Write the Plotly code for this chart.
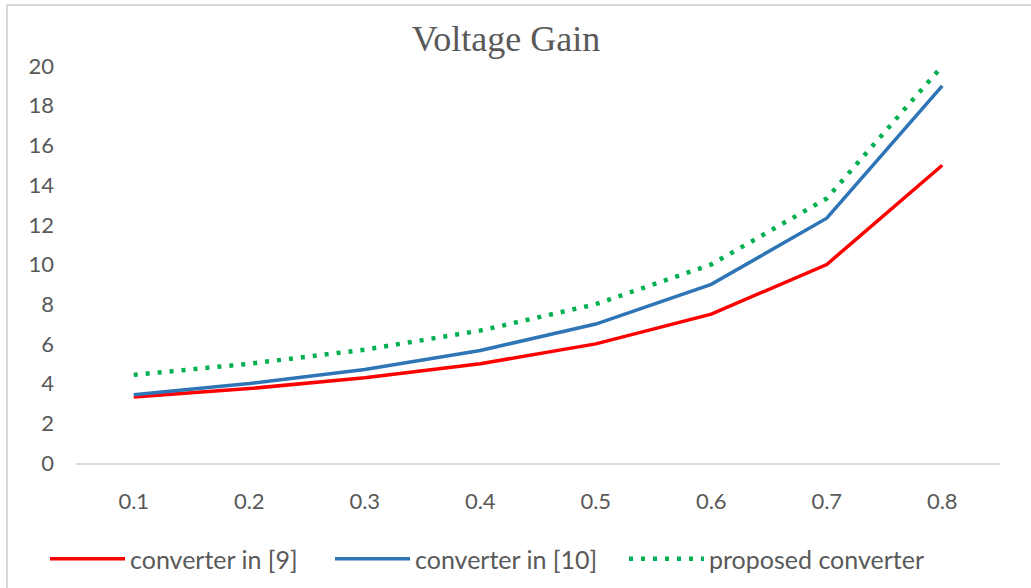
import plotly.graph_objects as go

# Duty ratio categories and voltage gain per converter
duty = ["0.1", "0.2", "0.3", "0.4", "0.5", "0.6", "0.7", "0.8"]
gain_conv9 = [3.33, 3.75, 4.29, 5.0, 6.0, 7.5, 10.0, 15.0]
gain_conv10 = [3.44, 4.0, 4.71, 5.67, 7.0, 9.0, 12.33, 19.0]
gain_proposed = [4.44, 5.0, 5.71, 6.67, 8.0, 10.0, 13.33, 20.0]

y_ticks = [0, 2, 4, 6, 8, 10, 12, 14, 16, 18, 20]

W, H = 1031, 588
L, R, T, B = 76, 31, 66, 125
plot_w = W - L - R
plot_h = H - T - B


def px_x(px):
    return (px - L) / plot_w


def px_y(py):
    return (H - B - py) / plot_h


text_font = "Lato, 'Open Sans', sans-serif"
grey = "#595959"

fig = go.Figure()
fig.add_trace(go.Scatter(
    x=duty, y=gain_conv9, mode="lines", name="converter in [9]",
    line=dict(color="#FF0000", width=3.5), legend="legend",
))
fig.add_trace(go.Scatter(
    x=duty, y=gain_conv10, mode="lines", name="converter in [10]",
    line=dict(color="#2E75B6", width=3.5), legend="legend2",
))
fig.add_trace(go.Scatter(
    x=duty, y=gain_proposed, mode="lines", name="proposed converter",
    line=dict(color="#00B050", width=4.5, dash="4px,8px"), legend="legend3",
))

leg_common = dict(
    orientation="h", xanchor="left", yanchor="middle",
    xref="paper", yref="paper", y=px_y(559),
    font=dict(family=text_font, size=25, color=grey),
    bgcolor="rgba(0,0,0,0)", borderwidth=0, itemwidth=75,
)

fig.update_layout(
    width=W, height=H,
    showlegend=True,
    margin=dict(l=L, r=R, t=T, b=B, autoexpand=False),
    paper_bgcolor="white", plot_bgcolor="white",
    title=dict(
        text="Voltage Gain", x=506 / W, xanchor="center",
        y=1 - 38 / H, yanchor="middle", xref="container", yref="container",
        font=dict(family="'Liberation Serif', 'Times New Roman', serif", size=36, color=grey),
    ),
    xaxis=dict(
        type="category", range=[-0.5, 7.5], showgrid=False, zeroline=False,
        showline=True, linecolor="#D9D9D9", linewidth=1.5,
        ticks="", ticklabelstandoff=18,
        tickfont=dict(family=text_font, size=22, color=grey),
    ),
    yaxis=dict(
        range=[0, 20], tickvals=y_ticks, ticktext=[str(v) for v in y_ticks],
        showgrid=False, zeroline=False, showline=False, ticks="",
        ticklabelstandoff=21,
        tickfont=dict(family=text_font, size=22, color=grey),
    ),
    legend=dict(leg_common, x=px_x(45)),
    legend2=dict(leg_common, x=px_x(330)),
    legend3=dict(leg_common, x=px_x(624)),
    shapes=[dict(
        type="rect", xref="paper", yref="paper",
        x0=px_x(7), x1=px_x(1045), y0=px_y(600), y1=px_y(5),
        line=dict(color="#D9D9D9", width=2), fillcolor="rgba(0,0,0,0)", layer="below",
    )],
)

fig.write_html("out.html")
